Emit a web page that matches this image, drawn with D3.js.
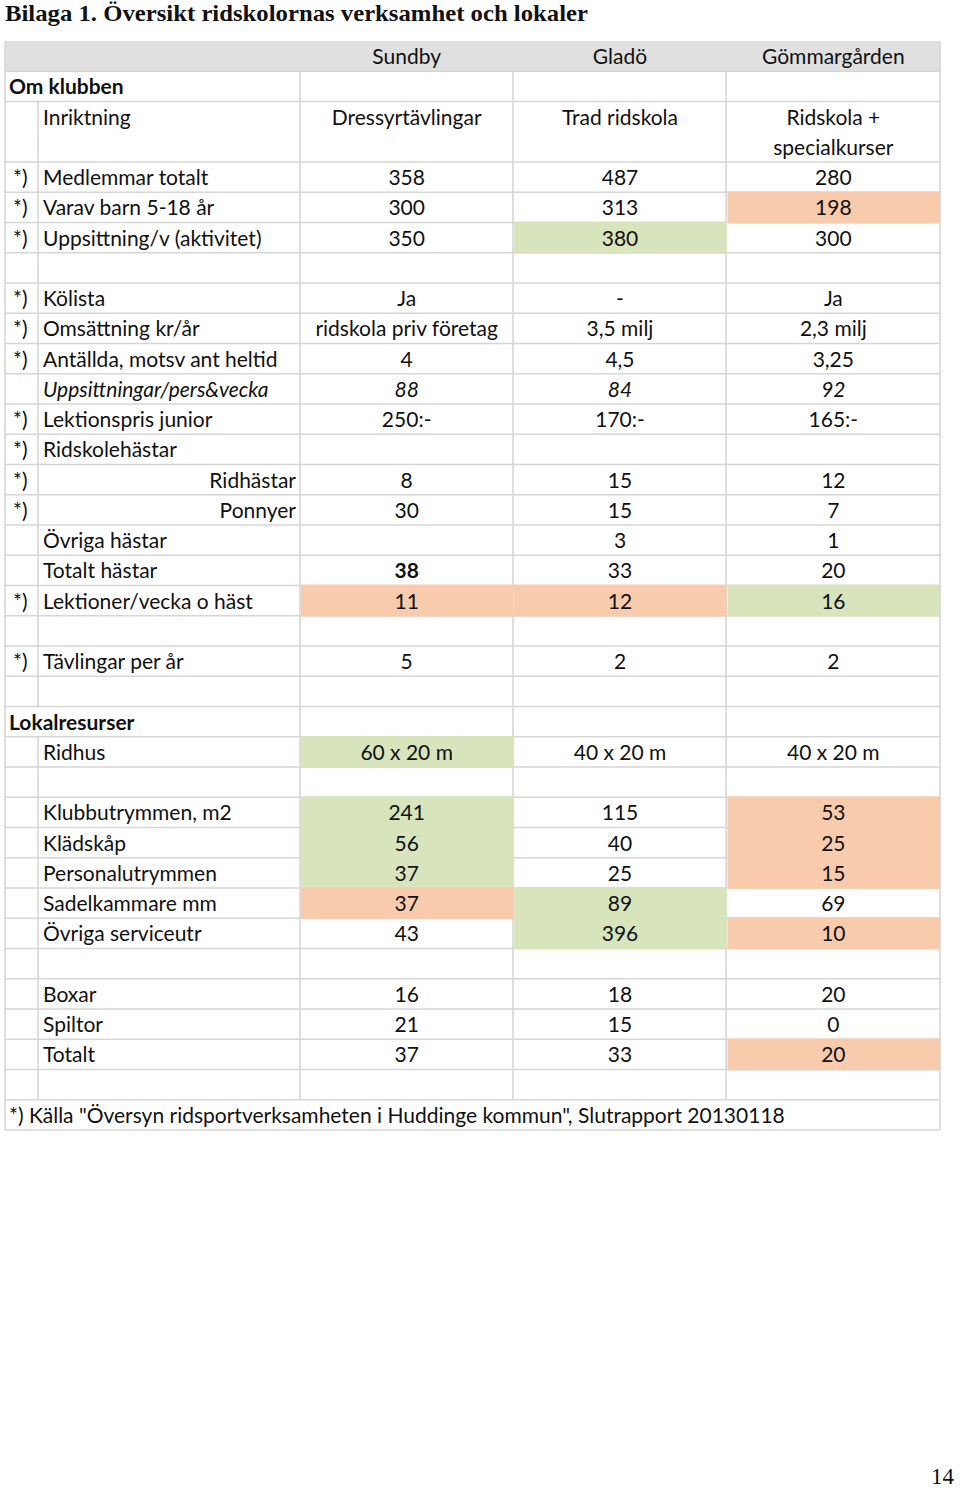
<!DOCTYPE html>
<html><head><meta charset="utf-8">
<script src="https://cdn.jsdelivr.net/npm/d3@7"></script>
<style>body{margin:0;background:#fff}</style></head>
<body><svg id="c" width="960" height="1488"></svg>
<script>
const title = "Bilaga 1. Översikt ridskolornas verksamhet och lokaler";
const pageNumber = "14";
const columns = ["Sundby", "Gladö", "Gömmargården"];
const rowLabels = ["Om klubben","Inriktning","Medlemmar totalt","Varav barn 5-18 år","Uppsittning/v (aktivitet)","",
  "Kölista","Omsättning kr/år","Antällda, motsv ant heltid","Uppsittningar/pers&vecka","Lektionspris junior",
  "Ridskolehästar","Ridhästar","Ponnyer","Övriga hästar","Totalt hästar","Lektioner/vecka o häst","",
  "Tävlingar per år","","Lokalresurser","Ridhus","","Klubbutrymmen, m2","Klädskåp","Personalutrymmen",
  "Sadelkammare mm","Övriga serviceutr","","Boxar","Spiltor","Totalt","",
  "*) Källa \"Översyn ridsportverksamheten i Huddinge kommun\", Slutrapport 20130118"];
const rowKinds = ["section","item","item","item","item","blank",
  "item","item","item","italic","item",
  "item","right","right","item","item","item","blank",
  "item","blank","section","item","blank","item","item","item",
  "item","item","blank","item","item","item","blank","note"];
const sourceMarked = [0,0,1,1,1,0, 1,1,1,0,1, 1,1,1,0,0,1,0, 1,0,0,0,0,0,0,0, 0,0,0,0,0,0,0,0];
const rowSpans = [1,2,1,1,1,1, 1,1,1,1,1, 1,1,1,1,1,1,1, 1,1,1,1,1,1,1,1, 1,1,1,1,1,1,1,1];
const sundby = ["","Dressyrtävlingar","358","300","350","","Ja","ridskola priv företag","4","88","250:-",
  "","8","30","","38","11","","5","","","60 x 20 m","","241","56","37","37","43","","16","21","37","",""];
const glado = ["","Trad ridskola","487","313","380","","-","3,5 milj","4,5","84","170:-",
  "","15","15","3","33","12","","2","","","40 x 20 m","","115","40","25","89","396","","18","15","33","",""];
const gommargarden = ["","Ridskola +\nspecialkurser","280","198","300","","Ja","2,3 milj","3,25","92","165:-",
  "","12","7","1","20","16","","2","","","40 x 20 m","","53","25","15","69","10","","20","0","20","",""];
// [row, column] cells highlighted as best (green) and weakest (orange)
const highlightBest = [[21,0],[23,0],[24,0],[25,0],[4,1],[26,1],[27,1],[16,2]];
const highlightWeak = [[16,0],[26,0],[16,1],[3,2],[23,2],[24,2],[25,2],[27,2],[31,2]];
const boldCells = [[15,0]];

const seriesValues = [sundby, glado, gommargarden];
const svg = d3.select("#c");
const FONT = "Lato, 'Open Sans', sans-serif";
const FS = 21;
const GRID = "#d6d6d6";
const nUnits = 1 + d3.sum(rowSpans);
const y = d3.scaleLinear().domain([0, nUnits]).range([41, 1130]);
const edges = [5, 38, 300, 513, 726, 940];
const colX = d3.scaleBand().domain(columns).range([300, 940]);

const rowStart = [];
let acc = 1;
rowSpans.forEach((s, i) => { rowStart.push(acc); acc += s; });

// title
svg.append("text").attr("x", 5).attr("y", 21)
  .attr("font-family", "'Liberation Serif', serif").attr("font-weight", "bold")
  .attr("font-size", 22.5).attr("fill", "#111")
  .attr("textLength", 583).attr("lengthAdjust", "spacingAndGlyphs").text(title);

// header fill
svg.append("rect").attr("x", edges[0]).attr("y", y(0)).attr("width", edges[5] - edges[0])
  .attr("height", y(1) - y(0)).attr("fill", "#e0e0e0");

const grid = svg.append("g").attr("stroke", GRID).attr("stroke-width", 1.6);
const hUnits = [1, ...rowStart.slice(1), nUnits];
grid.selectAll("line.h").data(hUnits).join("line").attr("class", "h")
  .attr("x1", edges[0]).attr("x2", edges[5]).attr("y1", d => y(d)).attr("y2", d => y(d));
rowKinds.forEach((k, i) => {
  let inner = [edges[1], edges[2], edges[3], edges[4]];
  if (k === "section") inner = [edges[2], edges[3], edges[4]];
  if (k === "note") inner = [];
  inner.forEach(xv => grid.append("line").attr("x1", xv).attr("x2", xv)
    .attr("y1", y(rowStart[i])).attr("y2", y(rowStart[i] + rowSpans[i])));
});

function fillCells(list, color) {
  svg.selectAll(null).data(list).join("rect")
    .attr("x", d => colX(columns[d[1]]) + 0.8)
    .attr("y", d => y(rowStart[d[0]]) - 0.8)
    .attr("width", colX.bandwidth() - 0.8)
    .attr("height", d => y(rowStart[d[0]] + rowSpans[d[0]]) - y(rowStart[d[0]]) + 1.6)
    .attr("fill", color);
}
fillCells(highlightBest, "#d8e4bc");
fillCells(highlightWeak, "#f8cbad");
[edges[0], edges[5]].forEach(xv => svg.append("line").attr("stroke", GRID).attr("stroke-width", 1.6)
  .attr("x1", xv).attr("x2", xv).attr("y1", y(0)).attr("y2", y(nUnits)));

const txt = svg.append("g").attr("font-family", FONT).attr("font-size", FS).attr("fill", "#111");
const base = u => y(u) + 23;

txt.selectAll("text.hd").data(columns).join("text").attr("class", "hd")
  .attr("x", d => colX(d) + colX.bandwidth() / 2).attr("y", base(0))
  .attr("text-anchor", "middle").text(d => d);

rowLabels.forEach((lab, i) => {
  const k = rowKinds[i];
  if (sourceMarked[i]) txt.append("text").attr("x", 13).attr("y", base(rowStart[i])).text("*)");
  if (!lab) return;
  const t = txt.append("text").attr("y", base(rowStart[i])).text(lab);
  if (k === "section") t.attr("x", 9).attr("font-weight", "bold");
  else if (k === "note") t.attr("x", 9);
  else if (k === "right") t.attr("x", 296).attr("text-anchor", "end");
  else t.attr("x", 43);
  if (k === "italic") t.attr("font-style", "italic");
});

seriesValues.forEach((vals, c) => {
  vals.forEach((v, i) => {
    if (!v) return;
    v.split("\n").forEach((ln, j) => {
      const t = txt.append("text")
        .attr("x", colX(columns[c]) + colX.bandwidth() / 2)
        .attr("y", base(rowStart[i] + j)).attr("text-anchor", "middle").text(ln);
      if (rowKinds[i] === "italic") t.attr("font-style", "italic");
      if (boldCells.some(b => b[0] === i && b[1] === c)) t.attr("font-weight", "bold");
    });
  });
});

svg.append("text").attr("x", 954).attr("y", 1484).attr("text-anchor", "end")
  .attr("font-family", "'Liberation Serif', serif").attr("font-size", 23).attr("fill", "#111").text(pageNumber);
</script></body></html>
